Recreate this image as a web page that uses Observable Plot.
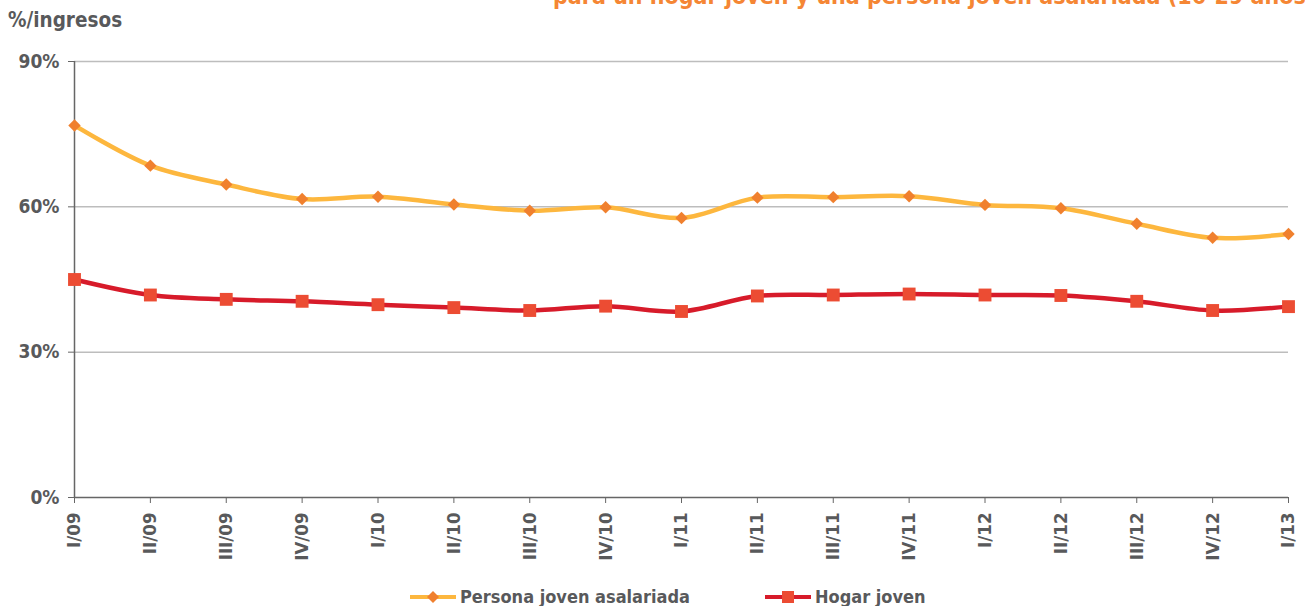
<!DOCTYPE html>
<html>
<head>
<meta charset="utf-8">
<script src="https://cdn.jsdelivr.net/npm/d3@7"></script>
<script src="https://cdn.jsdelivr.net/npm/@observablehq/plot@0.6"></script>
<style>
  html, body { margin: 0; padding: 0; background: #fff; overflow: hidden; }
  #wrap { position: relative; width: 1305px; height: 606px; overflow: hidden;
          font-family: "DejaVu Sans Condensed", "DejaVu Sans", sans-serif; font-stretch: condensed; font-weight: bold; color: #58595b; }
  #title { position: absolute; left: 553px; top: -17px; white-space: nowrap; font-size: 23px; color: #F58634; }
  #ylabel { position: absolute; left: 8px; top: 8px; font-size: 20.5px; }
  #chart { position: absolute; left: 0; top: 0; }
  #legend { position: absolute; top: 586px; left: 0; width: 1305px; font-size: 18px; }
  .item { position: absolute; display: flex; align-items: center; white-space: nowrap; }
  .item svg { margin-right: 4px; }
</style>
</head>
<body>
<div id="wrap">
  <div id="chart"></div>
  <div id="title">para un hogar joven y una persona joven asalariada (16-29 años)</div>
  <div id="ylabel">%/ingresos</div>
  <div id="legend"></div>
</div>
<script>
const quarters = ["I/09","II/09","III/09","IV/09","I/10","II/10","III/10","IV/10","I/11","II/11","III/11","IV/11","I/12","II/12","III/12","IV/12","I/13"];
const persona = [76.8, 68.5, 64.6, 61.6, 62.1, 60.5, 59.2, 59.9, 57.7, 61.9, 62.0, 62.2, 60.4, 59.7, 56.5, 53.6, 54.4];
const hogar   = [45.0, 41.8, 40.9, 40.5, 39.8, 39.2, 38.6, 39.5, 38.4, 41.6, 41.8, 42.0, 41.8, 41.7, 40.5, 38.6, 39.4];
const yTicks = [0, 30, 60, 90];
const seriesNames = ["Persona joven asalariada", "Hogar joven"];

const dPersona = quarters.map((q, i) => ({q, v: persona[i]}));
const dHogar = quarters.map((q, i) => ({q, v: hogar[i]}));

const yellow = "#FDB73E", orange = "#F0802E", red = "#D71B2A", redMark = "#EC4C33";
const gray = "#58595b";

const chart = Plot.plot({
  width: 1305,
  height: 584,
  marginTop: 61,
  marginBottom: 87,
  marginLeft: 74,
  marginRight: 17,
  style: {fontFamily: '"DejaVu Sans Condensed", "DejaVu Sans", sans-serif', fontSize: "18px", fontWeight: "bold", color: gray, background: "#fff"},
  x: {type: "point", domain: quarters, padding: 0, round: false},
  y: {domain: [0, 90]},
  marks: [
    Plot.ruleY(yTicks.filter(d => d > 0), {stroke: "#bdbdbd", strokeWidth: 1.5}),
    Plot.ruleY([0], {stroke: "#666", strokeWidth: 1.5}),
    Plot.ruleX([quarters[0]], {y1: 0, y2: 90, stroke: "#666", strokeWidth: 1.5}),
    Plot.axisY({ticks: yTicks, tickFormat: d => d + "%", tickSize: 6, tickPadding: 9, label: null, stroke: "#666", fontSize: 19}),
    Plot.axisX({tickRotate: -90, tickSize: 6, tickPadding: 9, label: null, stroke: "#666", fontSize: 18.5}),
    Plot.line(dPersona, {x: "q", y: "v", stroke: yellow, strokeWidth: 4.5, curve: "catmull-rom"}),
    Plot.dot(dPersona, {x: "q", y: "v", symbol: "diamond2", r: 5.6, fill: orange, stroke: "none"}),
    Plot.line(dHogar, {x: "q", y: "v", stroke: red, strokeWidth: 4.5, curve: "catmull-rom"}),
    Plot.dot(dHogar, {x: "q", y: "v", symbol: "square2", r: 8.2, fill: redMark, stroke: "none"})
  ]
});
document.getElementById("chart").appendChild(chart);

// Legend
const legend = document.getElementById("legend");
const items = [
  {name: seriesNames[0], left: 410, line: yellow, mark: orange, shape: "diamond"},
  {name: seriesNames[1], left: 765, line: red, mark: redMark, shape: "square"}
];
for (const it of items) {
  const div = document.createElement("div");
  div.className = "item";
  div.style.left = it.left + "px";
  const ns = "http://www.w3.org/2000/svg";
  const svg = document.createElementNS(ns, "svg");
  svg.setAttribute("width", 46); svg.setAttribute("height", 20);
  const ln = document.createElementNS(ns, "line");
  ln.setAttribute("x1", 0); ln.setAttribute("x2", 46); ln.setAttribute("y1", 10); ln.setAttribute("y2", 10);
  ln.setAttribute("stroke", it.line); ln.setAttribute("stroke-width", 4);
  svg.appendChild(ln);
  const m = document.createElementNS(ns, "path");
  m.setAttribute("d", it.shape === "diamond" ? "M23,4L29,10L23,16L17,10Z" : "M17,4H29V16H17Z");
  m.setAttribute("fill", it.mark);
  svg.appendChild(m);
  div.appendChild(svg);
  const span = document.createElement("span");
  span.textContent = it.name;
  div.appendChild(span);
  legend.appendChild(div);
}
</script>
</body>
</html>
